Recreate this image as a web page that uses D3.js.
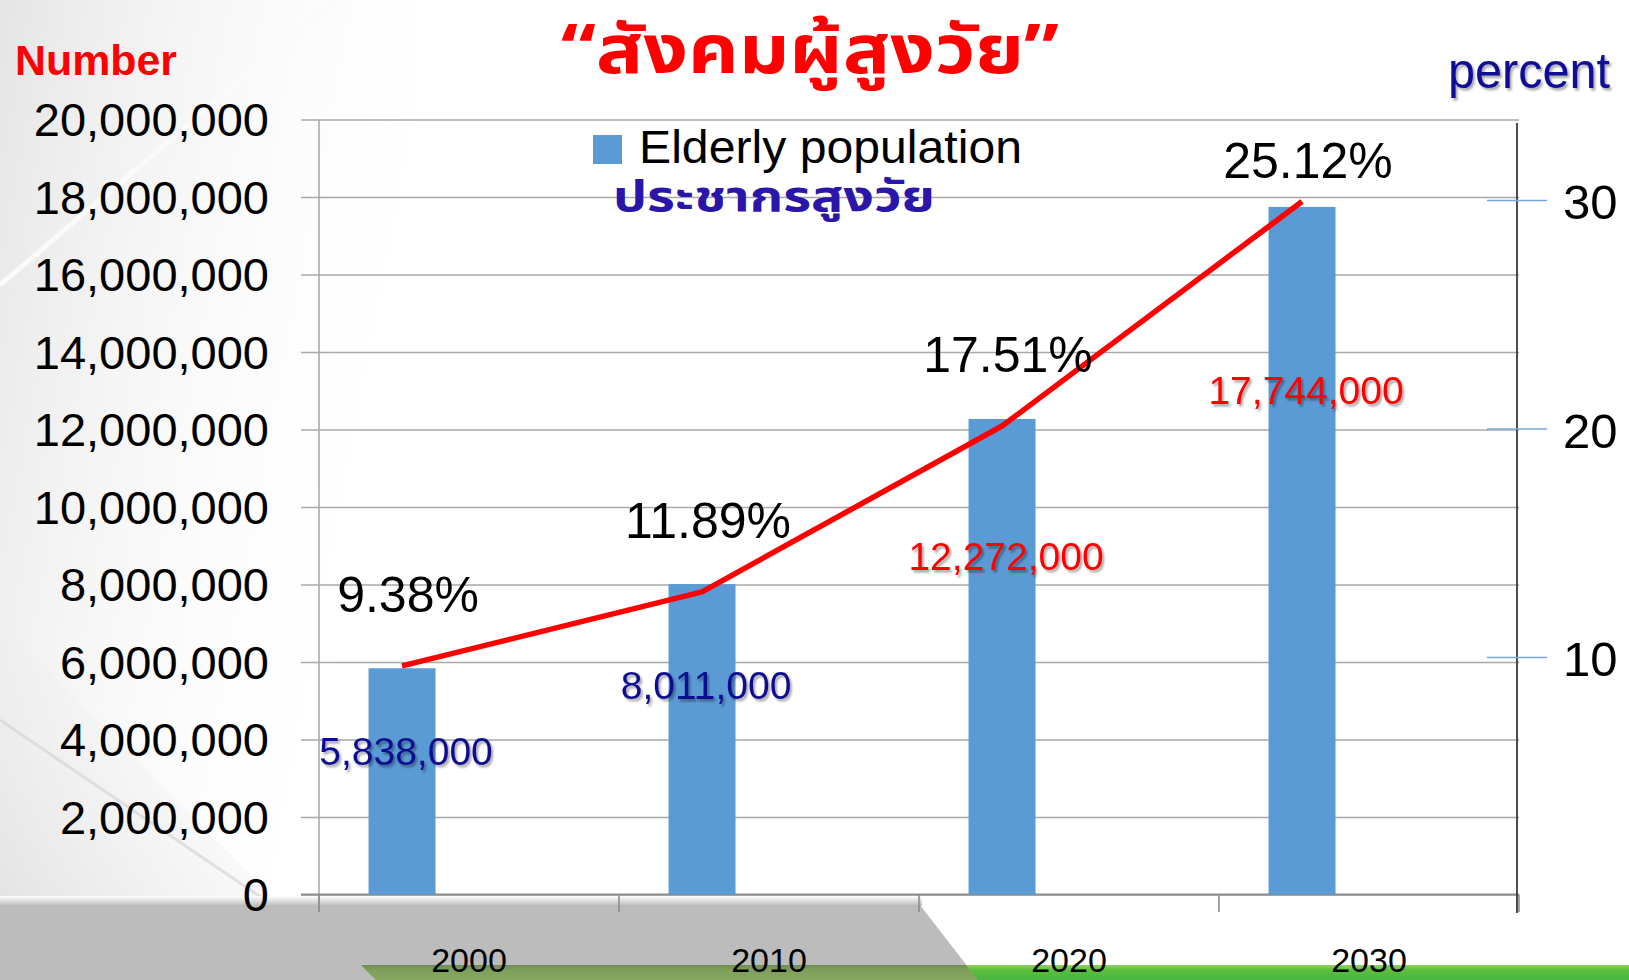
<!DOCTYPE html>
<html>
<head>
<meta charset="utf-8">
<script src="https://cdnjs.cloudflare.com/ajax/libs/d3/7.8.5/d3.min.js"></script>
<style>
body { margin:0; background:#fff; }
svg { display:block; }
</style>
</head>
<body>
<svg></svg>
<script>
// values
var years = ["2000", "2010", "2020", "2030"];
var elderly = [5838000, 8011000, 12272000, 17744000];
var elderlyPercent = [9.38, 11.89, 17.51, 25.12];
var numberTicks = [0, 2000000, 4000000, 6000000, 8000000, 10000000, 12000000, 14000000, 16000000, 18000000, 20000000];
var percentTicks = [10, 20, 30];
var seriesNames = ["Elderly population", "percent"];
var titleText = "“สังคมผู้สูงวัย”";
var legendThai = "ประชากรสูงวัย";

var screen = {width: 1629, height: 980}
var plot = {left: 319, right: 1519, top: 119.5, bottom: 894.5}
var thaiFont = "'Noto Sans Thai', 'Noto Sans Thai UI', Loma, Garuda, 'Tlwg Typo', Waree, sans-serif";
var sans = "'Liberation Sans', Arial, sans-serif";

var svg = d3.select("svg")
    .attr("width", screen.width)
    .attr("height", screen.height)

var defs = svg.append("defs")
var shadow = defs.append("filter").attr("id", "shadow").attr("x", "-10%").attr("y", "-20%").attr("width", "130%").attr("height", "160%")
shadow.append("feDropShadow").attr("dx", 2).attr("dy", 2.5).attr("stdDeviation", 1.3)
    .attr("flood-color", "#000").attr("flood-opacity", 0.35)

var corner = defs.append("linearGradient").attr("id", "corner")
    .attr("x1", 0).attr("y1", 0).attr("x2", 1).attr("y2", 0.4)
corner.append("stop").attr("offset", 0).attr("stop-color", "#dedede")
corner.append("stop").attr("offset", 1).attr("stop-color", "#ffffff").attr("stop-opacity", 0)

var lowcorner = defs.append("linearGradient").attr("id", "lowcorner")
    .attr("x1", 0).attr("y1", 1).attr("x2", 1).attr("y2", 0)
lowcorner.append("stop").attr("offset", 0).attr("stop-color", "#dcdcdc")
lowcorner.append("stop").attr("offset", 1).attr("stop-color", "#ffffff").attr("stop-opacity", 0)

var fade = defs.append("linearGradient").attr("id", "fade").attr("x1", 0).attr("y1", 0).attr("x2", 0).attr("y2", 1)
fade.append("stop").attr("offset", 0).attr("stop-color", "#ffffff")
fade.append("stop").attr("offset", 1).attr("stop-color", "#bcbcbc")

var green = defs.append("linearGradient").attr("id", "green").attr("x1", 0).attr("y1", 0).attr("x2", 0).attr("y2", 1)
green.append("stop").attr("offset", 0).attr("stop-color", "#8ed45a")
green.append("stop").attr("offset", 0.35).attr("stop-color", "#5cbf3c")
green.append("stop").attr("offset", 1).attr("stop-color", "#48b445")

var olive = defs.append("linearGradient").attr("id", "olive").attr("x1", 0).attr("y1", 0).attr("x2", 0).attr("y2", 1)
olive.append("stop").attr("offset", 0).attr("stop-color", "#6f8f4f")
olive.append("stop").attr("offset", 0.35).attr("stop-color", "#7fa05b")
olive.append("stop").attr("offset", 1).attr("stop-color", "#86a860")

// slide background
var bg = svg.append("g").attr("id", "background")
bg.append("rect").attr("width", screen.width).attr("height", screen.height).attr("fill", "#fff")
bg.append("rect").attr("width", 420).attr("height", 900).attr("fill", "url(#corner)").attr("opacity", 0.8)
bg.append("polygon").attr("points", "0,620 0,905 280,905").attr("fill", "url(#lowcorner)").attr("opacity", 0.7)
bg.append("line").attr("x1", 335).attr("y1", 0).attr("x2", 0).attr("y2", 285)
    .attr("stroke", "#fafafa").attr("stroke-width", 5)
bg.append("line").attr("x1", 0).attr("y1", 720).attr("x2", 265).attr("y2", 900)
    .attr("stroke", "#d2d2d2").attr("stroke-width", 3).attr("opacity", 0.6)
bg.append("rect").attr("x", 0).attr("y", 896).attr("width", 922).attr("height", 10).attr("fill", "url(#fade)")
bg.append("polygon").attr("points", "0,905 920,905 978,980 0,980").attr("fill", "#bcbcbc")
bg.append("polygon").attr("points", "361,965 1629,965 1629,980 376,980").attr("fill", "url(#green)")
bg.append("polygon").attr("points", "361,965 966,965 978,980 376,980").attr("fill", "url(#olive)")

// scales
var x0 = d3.scaleBand().domain(years).range([plot.left, plot.right])
var x1 = d3.scaleBand().domain(seriesNames).range([0, x0.bandwidth()])
    .paddingInner(0.5).paddingOuter(0.37)
var yLeft = d3.scaleLinear().domain([0, 20000000]).range([plot.bottom, plot.top])
// the red line sits on its own (unlabelled) secondary scale
var yPct = d3.scaleLinear().domain([1.63, 27.9]).range([plot.bottom, plot.top])
// the 10/20/30 marks on the right are placed independently on the slide
var yRight = d3.scaleLinear().domain([0, 30]).range([885.5, 200])

var barCenter = function(i)
{
    return x0(years[i]) + x1(seriesNames[0]) + x1.bandwidth() / 2
}

var chart = svg.append("g").attr("id", "graph")

// gridlines
chart.append("g")
    .attr("transform", "translate(301,0)")
    .call(d3.axisLeft(yLeft).tickValues(numberTicks).tickSize(-(plot.right - 301)).tickFormat(""))
    .call(function(g) { g.select(".domain").remove() })
    .selectAll("line").attr("stroke", "#a9a9a9").attr("stroke-width", 1.6)

chart.append("line")
    .attr("x1", plot.left).attr("x2", plot.left).attr("y1", plot.top).attr("y2", 912)
    .attr("stroke", "#a9a9a9").attr("stroke-width", 1.6)

// left axis labels
chart.append("g")
    .attr("transform", "translate(" + plot.left + ",0)")
    .call(d3.axisLeft(yLeft).tickValues(numberTicks).tickSize(0).tickPadding(50).tickFormat(d3.format(",")))
    .call(function(g) { g.select(".domain").remove() })
    .selectAll("text")
    .attr("font-family", sans).attr("font-size", 47).attr("fill", "#000").attr("dy", "0.35em")

// bottom axis
chart.append("line")
    .attr("x1", 301).attr("x2", plot.right).attr("y1", plot.bottom).attr("y2", plot.bottom)
    .attr("stroke", "#8c8c8c").attr("stroke-width", 2)

chart.selectAll(".xtick")
    .data(years.concat(["end"]))
    .enter()
    .append("line").attr("class", "xtick")
    .attr("x1", function(d) { return d == "end" ? plot.right : x0(d) })
    .attr("x2", function(d) { return d == "end" ? plot.right : x0(d) })
    .attr("y1", plot.bottom).attr("y2", 912)
    .attr("stroke", "#8c8c8c").attr("stroke-width", 1.6)

chart.append("g")
    .attr("transform", "translate(0," + plot.bottom + ")")
    .call(d3.axisBottom(x0).tickSize(0).tickPadding(53))
    .call(function(g) { g.select(".domain").remove() })
    .selectAll("text")
    .attr("font-family", sans).attr("font-size", 34).attr("fill", "#000")

// bars
chart.selectAll(".bar")
    .data(elderly)
    .enter()
    .append("rect").attr("class", "bar")
    .attr("x", function(d, i) { return x0(years[i]) + x1(seriesNames[0]) })
    .attr("width", x1.bandwidth())
    .attr("y", function(d) { return yLeft(d) })
    .attr("height", function(d) { return plot.bottom - yLeft(d) })
    .attr("fill", "#5b9bd5")

// right axis
chart.append("line")
    .attr("x1", 1517).attr("x2", 1517).attr("y1", 123).attr("y2", 913)
    .attr("stroke", "#3a3a3a").attr("stroke-width", 1.8)

var right = chart.append("g")
    .attr("transform", "translate(1487,0)")
    .call(d3.axisRight(yRight).tickValues(percentTicks).tickSize(60).tickPadding(16))
    .call(function(g) { g.select(".domain").remove() })
right.selectAll("line").attr("stroke", "#7aa7d9").attr("stroke-width", 1.5)
right.selectAll("text").attr("font-family", sans).attr("font-size", 49).attr("fill", "#000").attr("dy", "0.38em")

// percent line
var line = d3.line()
    .x(function(d, i) { return barCenter(i) })
    .y(function(d) { return yPct(d) })

chart.append("path")
    .datum(elderlyPercent)
    .attr("d", line)
    .attr("fill", "none")
    .attr("stroke", "#ff0000")
    .attr("stroke-width", 5.5)
    .attr("stroke-linejoin", "round")

chart.selectAll(".pct")
    .data(elderlyPercent)
    .enter()
    .append("text").attr("class", "pct")
    .attr("x", function(d, i) { return barCenter(i) + 6 })
    .attr("y", function(d) { return Math.max(yPct(d) - 54, plot.top + 58) })
    .attr("text-anchor", "middle")
    .attr("font-family", sans).attr("font-size", 50).attr("fill", "#000")
    .text(function(d) { return d.toFixed(2) + "%" })

// value labels inside the bars
var labelColor = function(i) { return i < 2 ? "#0f0f8f" : "#ff0000" }
chart.selectAll(".val")
    .data(elderly)
    .enter()
    .append("text").attr("class", "val")
    .attr("x", function(d, i) { return barCenter(i) + 4 })
    .attr("y", function(d)
    {
        var top = yLeft(d)
        return top + 34 + 0.2167 * (plot.bottom - top)
    })
    .attr("dy", "0.35em")
    .attr("text-anchor", "middle")
    .attr("font-family", sans).attr("font-size", 39)
    .attr("fill", function(d, i) { return labelColor(i) })
    .attr("filter", "url(#shadow)")
    .text(function(d) { return d3.format(",")(d) })

// legend
var legend = svg.append("g").attr("id", "legend")
legend.append("rect").attr("x", 593).attr("y", 135).attr("width", 29).attr("height", 29).attr("fill", "#5b9bd5")
legend.append("text").attr("x", 639).attr("y", 163)
    .attr("font-family", sans).attr("font-size", 46).attr("fill", "#000")
    .attr("textLength", 383).attr("lengthAdjust", "spacingAndGlyphs")
    .text(seriesNames[0])
legend.append("text").attr("x", 613).attr("y", 211)
    .attr("font-family", thaiFont).attr("font-weight", "bold").attr("font-size", 42).attr("fill", "#2a16a8")
    .attr("textLength", 322).attr("lengthAdjust", "spacingAndGlyphs")
    .text(legendThai)

// titles
svg.append("text").attr("x", 810).attr("y", 73)
    .attr("text-anchor", "middle")
    .attr("font-family", thaiFont).attr("font-weight", "bold").attr("font-size", 68).attr("fill", "#ff0000")
    .attr("textLength", 498).attr("lengthAdjust", "spacingAndGlyphs")
    .text(titleText)

svg.append("text").attr("x", 15).attr("y", 75)
    .attr("font-family", sans).attr("font-weight", "bold").attr("font-size", 42).attr("fill", "#ff0000")
    .attr("textLength", 162).attr("lengthAdjust", "spacingAndGlyphs")
    .text("Number")

svg.append("text").attr("x", 1448).attr("y", 88)
    .attr("font-family", sans).attr("font-size", 50).attr("fill", "#0a0a96")
    .attr("textLength", 162).attr("lengthAdjust", "spacingAndGlyphs")
    .attr("filter", "url(#shadow)")
    .text("percent")
</script>
</body>
</html>
